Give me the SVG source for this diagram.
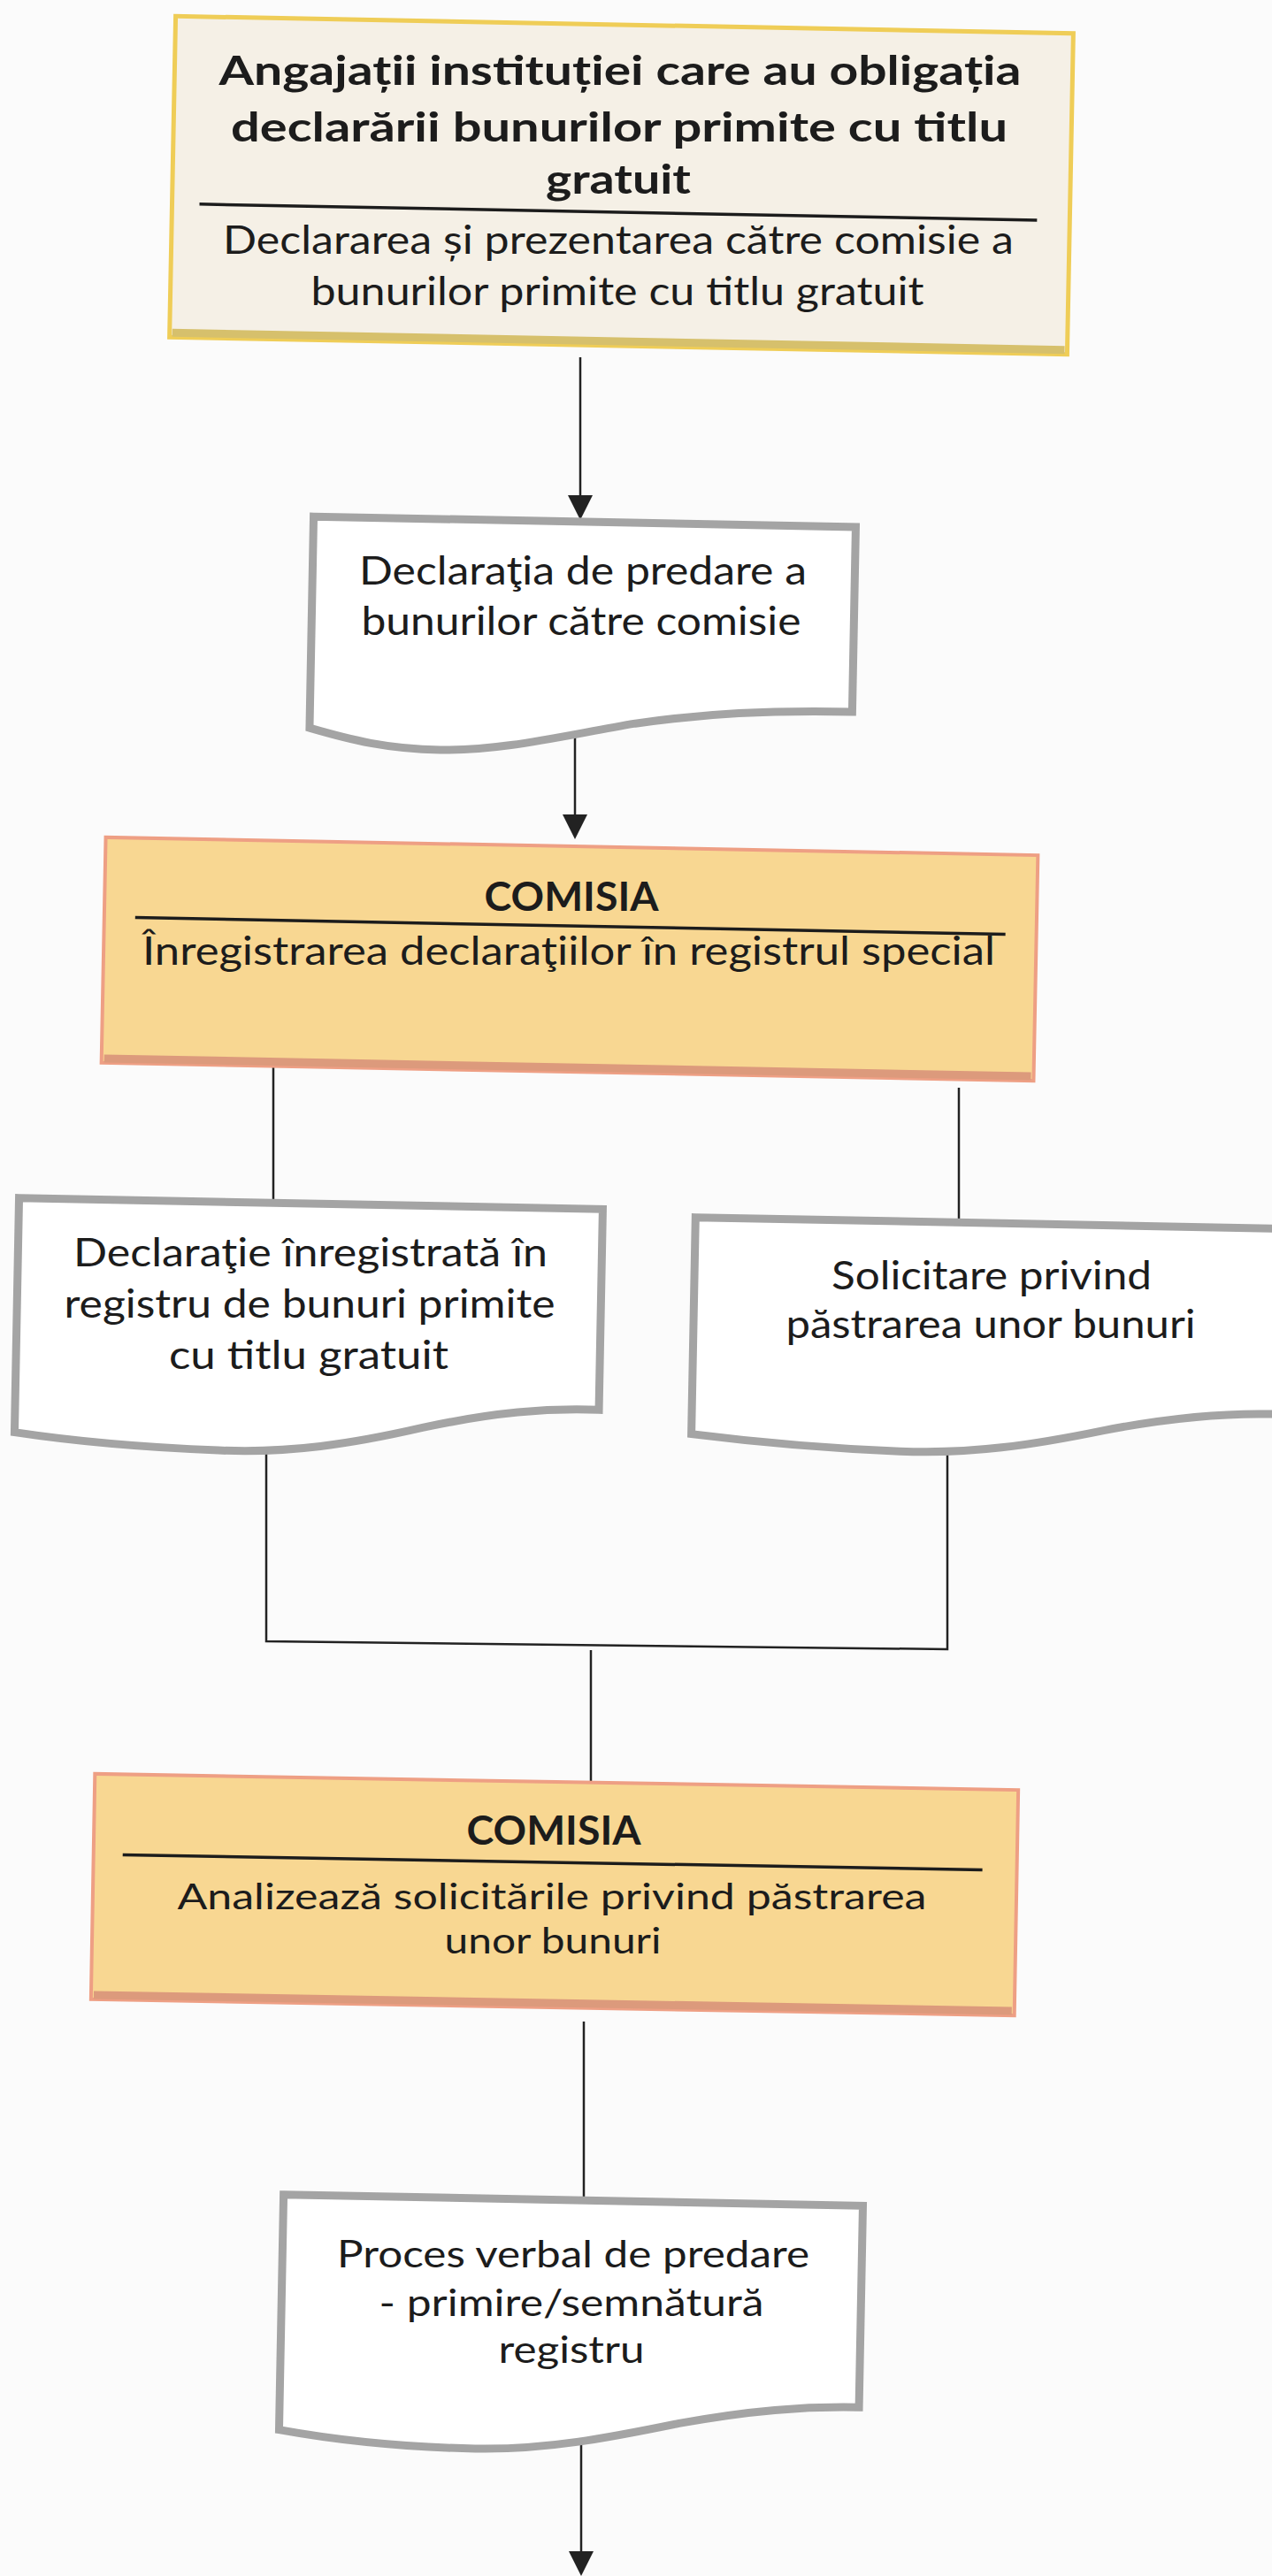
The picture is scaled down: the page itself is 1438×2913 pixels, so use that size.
<svg xmlns="http://www.w3.org/2000/svg" width="1438" height="2913" viewBox="0 0 1438 2913">
<style>
  text { font-family: Lato, "Open Sans", "Liberation Sans", sans-serif; fill: #1c1c1c; text-anchor: middle; }
  .b { font-weight: bold; font-size: 46px; }
  .r { font-size: 45px; }
  .r44 { font-size: 44px; }
  .r42 { font-size: 42px; }
  .r41 { font-size: 41px; }
  .doc { fill: #ffffff; stroke: #a4a4a4; stroke-width: 9; stroke-linejoin: miter; }
  .cream { fill: #f5f0e6; stroke: #efcd57; stroke-width: 5; }
  .peach { fill: #f8d792; stroke: #ee9f84; stroke-width: 4; }
  .div { stroke: #1c1c1c; stroke-width: 3.5; }
  .con { stroke: #222; stroke-width: 2.5; fill: none; }
  .head { fill: #222; }
</style>
<rect x="0" y="0" width="1438" height="2913" fill="#fbfbfb"/>

<g id="connectors">
  <line class="con" x1="656" y1="404" x2="656" y2="562"/>
  <polygon class="head" points="642,560 670,560 656,588"/>
  <line class="con" x1="650" y1="834" x2="650" y2="924"/>
  <polygon class="head" points="636,921 664,921 650,949"/>
  <line class="con" x1="309" y1="1205" x2="309" y2="1358"/>
  <line class="con" x1="1084" y1="1230" x2="1084" y2="1383"/>
  <polyline class="con" points="301,1640 301,1856 1071,1865 1071,1645"/>
  <line class="con" x1="668" y1="1866" x2="668" y2="2014"/>
  <line class="con" x1="660" y1="2286" x2="660" y2="2485"/>
  <line class="con" x1="657" y1="2750" x2="657" y2="2888"/>
  <polygon class="head" points="643,2885 671,2885 657,2913"/>
</g>

<g id="n1">
  <g transform="rotate(1.1 702 210)">
    <rect class="cream" x="195" y="28" width="1015" height="363"/>
    <line x1="198" y1="386" x2="1207" y2="386" stroke="#d6c06c" stroke-width="9"/>
    <line class="div" x1="226" y1="240" x2="1173" y2="240"/>
  </g>
  <text class="b" x="701" y="96" textLength="907" lengthAdjust="spacingAndGlyphs">Angajații instituției care au obligația</text>
  <text class="b" x="700" y="160" textLength="878" lengthAdjust="spacingAndGlyphs">declarării bunurilor primite cu titlu</text>
  <text class="b" x="699" y="219" textLength="164" lengthAdjust="spacingAndGlyphs">gratuit</text>
  <text class="r" x="699" y="287" textLength="894" lengthAdjust="spacingAndGlyphs">Declararea și prezentarea către comisie a</text>
  <text class="r" x="698" y="345" textLength="693" lengthAdjust="spacingAndGlyphs">bunurilor primite cu titlu gratuit</text>
</g>

<g id="n2">
  <path class="doc" transform="rotate(1.1 658 720)" d="M352,590 H965 V799 C 870,799 800,804 720,817 C 640,832 570,851 500,851 C 440,851 400,842 352,829 Z"/>
  <text class="r" x="659" y="661" textLength="506" lengthAdjust="spacingAndGlyphs">Declaraţia de predare a</text>
  <text class="r" x="657" y="718" textLength="497" lengthAdjust="spacingAndGlyphs">bunurilor către comisie</text>
</g>

<g id="n3">
  <g transform="rotate(1.1 644 1085)">
    <rect class="peach" x="117" y="957" width="1054" height="255"/>
    <line x1="120" y1="1207" x2="1168" y2="1207" stroke="#dc9a7c" stroke-width="9"/>
    <line class="div" x1="152" y1="1047" x2="1136" y2="1047"/>
  </g>
  <text class="b" x="646" y="1030" textLength="197" lengthAdjust="spacingAndGlyphs">COMISIA</text>
  <text class="r" x="643" y="1091" textLength="964" lengthAdjust="spacingAndGlyphs">Înregistrarea declaraţiilor în registrul special</text>
</g>

<g id="n4">
  <path class="doc" transform="rotate(1.1 350 1490)" d="M19,1361 H679 V1588 C 620,1587 560,1593 480,1612 C 400,1632 330,1644 250,1642 C 150,1640 80,1634 19,1626 Z"/>
  <text class="r" x="351" y="1432" textLength="536" lengthAdjust="spacingAndGlyphs">Declaraţie înregistrată în</text>
  <text class="r" x="350" y="1490" textLength="555" lengthAdjust="spacingAndGlyphs">registru de bunuri primite</text>
  <text class="r" x="349" y="1548" textLength="316" lengthAdjust="spacingAndGlyphs">cu titlu gratuit</text>
</g>

<g id="n5">
  <path class="doc" transform="rotate(1.1 1116 1500)" d="M784,1383 H1448 V1593 C 1390,1592 1330,1598 1250,1615 C 1170,1633 1100,1645 1020,1643 C 920,1641 850,1635 784,1628 Z"/>
  <text class="r44" x="1121" y="1458" textLength="362" lengthAdjust="spacingAndGlyphs">Solicitare privind</text>
  <text class="r44" x="1120" y="1513" textLength="463" lengthAdjust="spacingAndGlyphs">păstrarea unor bunuri</text>
</g>

<g id="n6">
  <g transform="rotate(1.0 627 2143)">
    <rect class="peach" x="105" y="2015" width="1044" height="255"/>
    <line x1="108" y1="2265" x2="1146" y2="2265" stroke="#dc9a7c" stroke-width="9"/>
    <line class="div" x1="138" y1="2106" x2="1110" y2="2106"/>
  </g>
  <text class="b" x="626" y="2086" textLength="197" lengthAdjust="spacingAndGlyphs">COMISIA</text>
  <text class="r41" x="624" y="2159" textLength="847" lengthAdjust="spacingAndGlyphs">Analizează solicitările privind păstrarea</text>
  <text class="r41" x="625" y="2209" textLength="245" lengthAdjust="spacingAndGlyphs">unor bunuri</text>
</g>

<g id="n7">
  <path class="doc" transform="rotate(1.1 646 2620)" d="M318,2488 H973 V2716 C 910,2716 850,2722 770,2738 C 690,2756 620,2771 540,2771 C 450,2771 380,2764 318,2754 Z"/>
  <text class="r42" x="648" y="2564" textLength="534" lengthAdjust="spacingAndGlyphs">Proces verbal de predare</text>
  <text class="r42" x="646" y="2619" textLength="435" lengthAdjust="spacingAndGlyphs">- primire/semnătură</text>
  <text class="r42" x="646" y="2672" textLength="165" lengthAdjust="spacingAndGlyphs">registru</text>
</g>
</svg>
